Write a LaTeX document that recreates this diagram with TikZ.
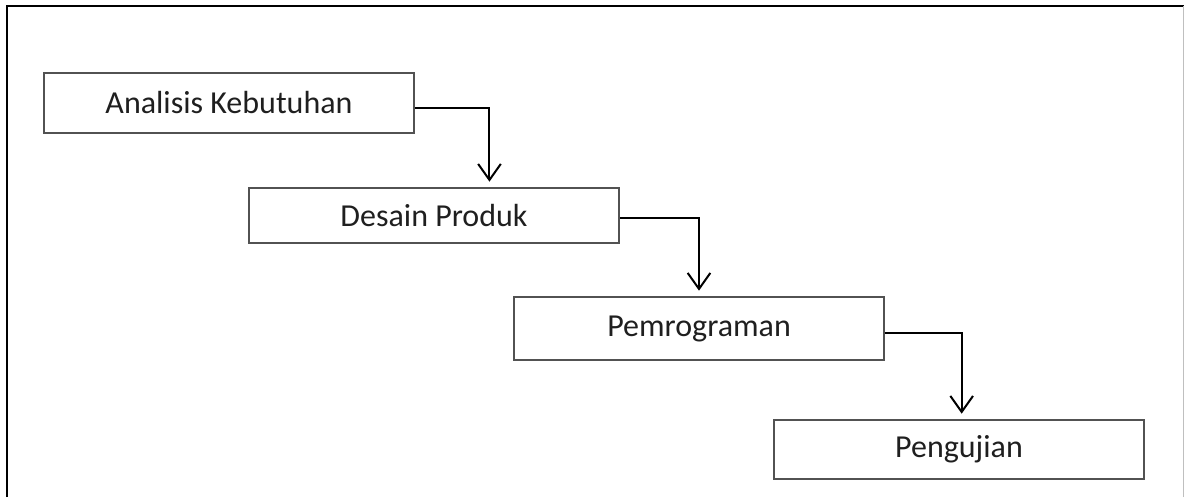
\documentclass[tikz,border=0pt]{standalone}
\usepackage{fontspec}
\setmainfont{Carlito}
\usepackage{tikz}
\usetikzlibrary{arrows.meta,positioning}
\tikzset{
	phasebox/.style={draw=black!68, line width=1.5pt, align=center,
		minimum width=278pt, minimum height=45pt, inner sep=0pt,
		font=\fontsize{24}{28}\selectfont, text=black!88},
	flowarrow/.style={-{Straight Barb[length=12pt, width=17pt, line width=1.5pt]},
		line width=1.5pt, shorten >=4pt},
	frameline/.style={line width=1.7pt}
}
\begin{document}
\begin{tikzpicture}[x=0.75pt, y=0.75pt]
	
	\useasboundingbox (0,0) rectangle (1184,497);
	
	%% -- outer frame (left and top edges)
	\draw[frameline] (7,0) -- (7,491) -- (1184,491);
	\draw[black!25, line width=0.6pt] (1183,0) -- (1183,491);
	
	%% -- phases
	\node[phasebox, minimum height=45pt] (a1) at (229,394) {Analisis Kebutuhan};
	
	\node[phasebox, minimum height=41.25pt,
	below right=39.75pt and 153.75pt of a1.south west] (a2)
	{Desain Produk};
	
	\node[phasebox, minimum height=47.25pt,
	below right=39pt and 198.75pt of a2.south west] (a3)
	{Pemrograman};
	
	\node[phasebox, minimum height=44.25pt,
	below right=43.5pt and 195pt of a3.south west] (a4)
	{Pengujian};
	
	%% -- flow arrows
	\draw[flowarrow] ([yshift=-3.75pt]a1.east) -| ([xshift=41.6pt]a2.north);
	\draw[flowarrow] ([yshift=-2pt]a2.east) -| (a3.north);
	\draw[flowarrow] ([yshift=-3.4pt]a3.east) -| ([xshift=2pt]a4.north);
	
\end{tikzpicture}
\end{document}
